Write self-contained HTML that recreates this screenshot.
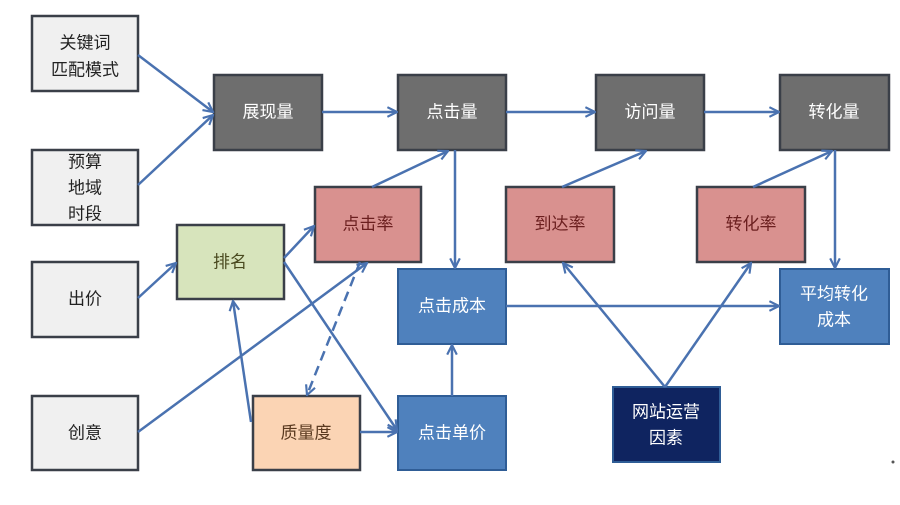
<!DOCTYPE html>
<html><head><meta charset="utf-8"><style>
body{margin:0;background:#fff;}
svg text{font-family:"Liberation Sans","Noto Sans CJK SC",sans-serif;font-size:17px;text-anchor:middle;dominant-baseline:central;}
</style></head><body>
<svg width="900" height="500" viewBox="0 0 900 500" xmlns="http://www.w3.org/2000/svg">
<defs>
<marker id="a" viewBox="0 0 10 10" refX="9" refY="5" markerWidth="12" markerHeight="12" orient="auto-start-reverse" markerUnits="userSpaceOnUse">
<path d="M1,1 L9,5 L1,9" fill="none" stroke="#4a72b0" stroke-width="1.8"/></marker>
</defs>
<g stroke="#3a3f48" stroke-width="2.5">
<rect x="32" y="16" width="106" height="75" fill="#f0f0f0"/>
<rect x="32" y="150" width="106" height="75" fill="#f0f0f0"/>
<rect x="32" y="262" width="106" height="75" fill="#f0f0f0"/>
<rect x="32" y="396" width="106" height="74" fill="#f0f0f0"/>
<rect x="214" y="75" width="108" height="75" fill="#6e6e6e"/>
<rect x="398" y="75" width="108" height="75" fill="#6e6e6e"/>
<rect x="596" y="75" width="108" height="75" fill="#6e6e6e"/>
<rect x="780" y="75" width="109" height="75" fill="#6e6e6e"/>
<rect x="315" y="187" width="106" height="75" fill="#d9918f"/>
<rect x="506" y="187" width="108" height="75" fill="#d9918f"/>
<rect x="697" y="187" width="108" height="75" fill="#d9918f"/>
<rect x="177" y="225" width="107" height="74" fill="#d7e4bc"/>
<rect x="253" y="396" width="107" height="74" fill="#fbd4b4"/>
</g>
<g stroke="#2f5d96" stroke-width="2">
<rect x="398" y="269" width="108" height="75" fill="#4f81bd"/>
<rect x="780" y="269" width="109" height="75" fill="#4f81bd"/>
<rect x="398" y="396" width="108" height="74" fill="#4f81bd"/>
<rect x="613" y="387" width="107" height="75" fill="#0f2460"/>
</g>
<g stroke="#4a72b0" stroke-width="2.5" fill="none" marker-end="url(#a)">
<line x1="138" y1="55" x2="213" y2="112"/>
<line x1="138" y1="185" x2="213" y2="115"/>
<line x1="322" y1="112" x2="397" y2="112"/>
<line x1="506" y1="112" x2="595" y2="112"/>
<line x1="704" y1="112" x2="779" y2="112"/>
<line x1="372" y1="187" x2="448" y2="151"/>
<line x1="455" y1="150" x2="455" y2="268"/>
<line x1="562" y1="187" x2="646" y2="151"/>
<line x1="753" y1="187" x2="832" y2="151"/>
<line x1="835" y1="150" x2="835" y2="268"/>
<line x1="506" y1="306" x2="779" y2="306"/>
<line x1="665" y1="387" x2="563" y2="263"/>
<line x1="665" y1="387" x2="751" y2="263"/>
<line x1="138" y1="298" x2="176" y2="263"/>
<line x1="284" y1="258" x2="314" y2="226"/>
<line x1="284" y1="262" x2="397" y2="430"/>
<line x1="138" y1="432" x2="367" y2="263"/>
<line x1="251" y1="422" x2="233" y2="301"/>
<line x1="360" y1="262" x2="307" y2="395" stroke-dasharray="10,6"/>
<line x1="360" y1="432" x2="397" y2="432"/>
<line x1="452" y1="396" x2="452" y2="345"/>
</g>
<g fill="#222">
<text x="85" y="43">关键词</text><text x="85" y="70">匹配模式</text>
<text x="85" y="162">预算</text><text x="85" y="188">地域</text><text x="85" y="214">时段</text>
<text x="85" y="299">出价</text><text x="85" y="433">创意</text>
</g>
<g fill="#fff">
<text x="268" y="112">展现量</text><text x="452" y="112">点击量</text>
<text x="650" y="112">访问量</text><text x="834" y="112">转化量</text>
<text x="452" y="306">点击成本</text><text x="452" y="433">点击单价</text>
<text x="834" y="294">平均转化</text><text x="834" y="320">成本</text>
<text x="666" y="412">网站运营</text><text x="666" y="438">因素</text>
</g>
<g fill="#6b1f1f">
<text x="368" y="224">点击率</text><text x="560" y="224">到达率</text><text x="751" y="224">转化率</text>
</g>
<text x="230" y="262" fill="#4a4a20">排名</text>
<text x="306" y="433" fill="#5a3a20">质量度</text>
<circle cx="893" cy="462" r="1.5" fill="#555"/>
</svg>
</body></html>
